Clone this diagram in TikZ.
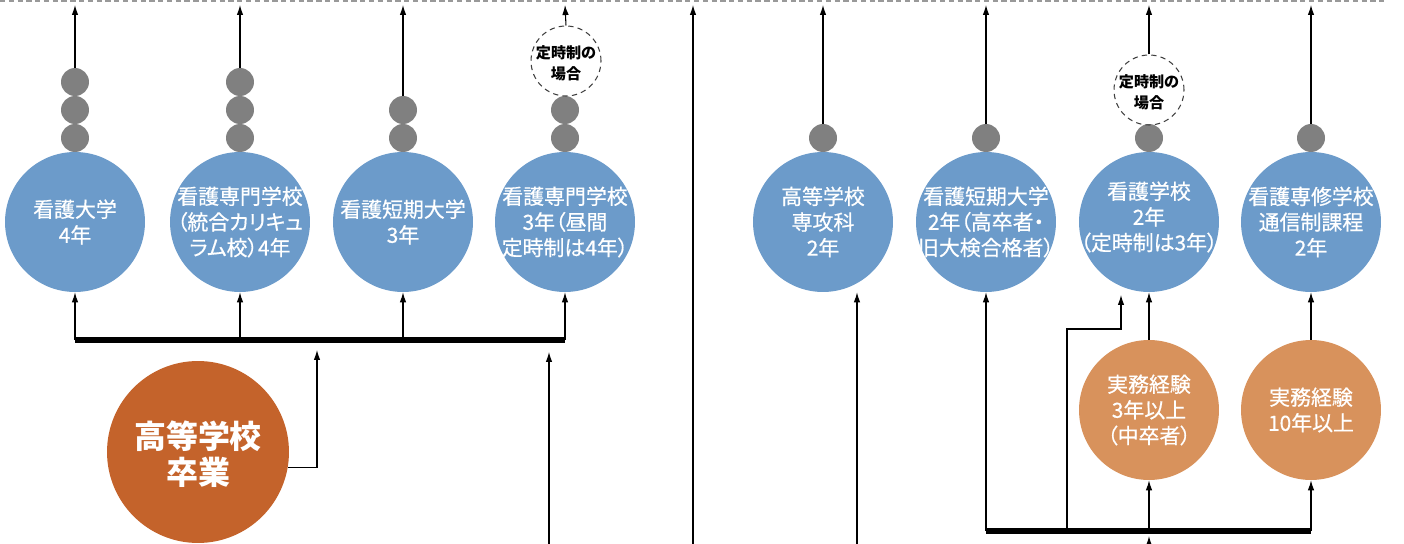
\documentclass[tikz,border=0pt]{standalone}
\usepackage{fontspec}
\setmainfont{Noto Sans CJK JP}[RawFeature=+palt]
\newfontfamily\medjp{Noto Sans CJK JP}[RawFeature=+palt,FakeBold=0.6]
\usetikzlibrary{arrows.meta}
\definecolor{nblue}{HTML}{6C9BCA}
\definecolor{ngray}{HTML}{808080}
\definecolor{norange}{HTML}{C4632B}
\definecolor{nlorange}{HTML}{D8925C}
\begin{document}
\begin{tikzpicture}[x=0.02cm,y=-0.02cm,
  arr/.style={line width=0.6pt,-{Latex[length=0.2cm,width=0.13cm]}},
  barline/.style={line width=3.6pt},
  bluec/.style={circle,fill=nblue,minimum size=2.8cm,inner sep=0pt},
  grayc/.style={circle,fill=ngray,minimum size=0.56cm,inner sep=0pt},
  dashc/.style={circle,draw=black!75,dash pattern=on 3pt off 2.4pt,line width=0.6pt,minimum size=1.4cm,inner sep=0pt},
  bigc/.style={circle,fill=norange,minimum size=3.64cm,inner sep=0pt},
  smallo/.style={circle,fill=nlorange,minimum size=2.8cm,inner sep=0pt},
  wtxt/.style={text=white,align=center,inner sep=0pt,font=\medjp\fontsize{11.9}{14.6}\selectfont},
  bigtxt/.style={text=white,align=center,inner sep=0pt,font=\fontsize{18.2}{20.5}\selectfont\bfseries},
  dtxt/.style={text=black,align=center,inner sep=0pt,font=\fontsize{8.6}{11.8}\selectfont\bfseries}]
\useasboundingbox (0,0) rectangle (1404,544);
% top border
\draw[black!40,densely dashed,line width=0.7pt] (0,1) -- (1387,1);
% top coordinates
\foreach \n/\x in {1/75,2/240,3/403,4/565,5/823,6/986,7/1149,8/1311}{
  \coordinate (t\n) at (\x,5);
}
% blue circles
\node[bluec] (b1) at (75,222) {};
\node[bluec] (b2) at (240,222) {};
\node[bluec] (b3) at (403,222) {};
\node[bluec] (b4) at (565,222) {};
\node[bluec] (b5) at (823,222) {};
\node[bluec] (b6) at (986,222) {};
\node[bluec] (b7) at (1149,222) {};
\node[bluec] (b8) at (1311,222) {};
\node[wtxt] (l1) at (b1) {看護大学\\4年};
\node[wtxt] (l2) at (b2) {看護専門学校\\（統合カリキュ\\ラム校）4年};
\node[wtxt] (l3) at (b3) {看護短期大学\\3年};
\node[wtxt] (l4) at (b4) {看護専門学校\\3年（昼間\\定時制は4年）};
\node[wtxt] (l5) at (b5) {高等学校\\専攻科\\2年};
\node[wtxt] (l6) at (b6) {看護短期大学\\2年（高卒者・\\旧大検合格者）};
\node[wtxt] (l7) at ([yshift=0.1cm]b7) {看護学校\\2年\\（定時制は3年）};
\node[wtxt] (l8) at (b8) {看護専修学校\\通信制課程\\2年};
% gray beads
\node[grayc] (g1a) at (75,138) {};
\node[grayc] (g1b) at (75,110) {};
\node[grayc] (g1c) at (75,82) {};
\node[grayc] (g2a) at (240,138) {};
\node[grayc] (g2b) at (240,110) {};
\node[grayc] (g2c) at (240,82) {};
\node[grayc] (g3a) at (403,138) {};
\node[grayc] (g3b) at (403,110) {};
\node[grayc] (g4a) at (565,138) {};
\node[grayc] (g4b) at (565,110) {};
\node[grayc] (g5) at (823,138) {};
\node[grayc] (g6) at (986,138) {};
\node[grayc] (g7) at (1149,138) {};
\node[grayc] (g8) at (1311,138) {};
% dashed circles
\node[dashc] (d4) at (566,61) {};
\node[dtxt] at ([yshift=-0.05cm]d4) {定時制の\\場合};
\node[dashc] (d7) at (1149,90) {};
\node[dtxt] at ([yshift=-0.05cm]d7) {定時制の\\場合};
% upward arrows to top
\draw[arr] (g1c.north) -- (t1);
\draw[arr] (g2c.north) -- (t2);
\draw[arr] (g3b.north) -- (t3);
\draw[arr] (d4.north) -- (t4);
\draw[arr] (g5.north) -- (t5);
\draw[arr] (g6.north) -- (t6);
\draw[arr] (d7.north) -- (t7);
\draw[arr] (g8.north) -- (t8);
% centre vertical line
\coordinate (vb) at (693,544);
\coordinate (vt) at (693,5);
\draw[arr] (vb) -- (vt);
% left bar
\coordinate (lb1) at (75,340);
\coordinate (lb2) at (240,340);
\coordinate (lb3) at (403,340);
\coordinate (lb4) at (565,340);
\draw[barline] (lb1) -- (lb4);
\draw[arr] (lb1) -- (b1.south);
\draw[arr] (lb2) -- (b2.south);
\draw[arr] (lb3) -- (b3.south);
\draw[arr] (lb4) -- (b4.south);
% high school graduation
\node[bigc] (hs) at (198,452) {};
\node[bigtxt] at ([yshift=-0.04cm]hs) {高等学校\\卒業};
\coordinate (hsup) at (317,350);
\draw[arr] (hs.-10) -| (hsup);
\coordinate (lbot) at (549,544);
\coordinate (ltop) at (549,352);
\draw[arr] (lbot) -- (ltop);
% right part
\coordinate (sb) at (857,544);
\draw[arr] (sb) -- (sb |- b5.south);
\node[smallo] (o7) at (1149,410) {};
\node[smallo] (o8) at (1311,410) {};
\node[wtxt] at (o7) {実務経験\\3年以上\\（中卒者）};
\node[wtxt] at (o8) {実務経験\\10年以上};
\coordinate (rb1) at (986,531);
\coordinate (rbe) at (1067,531);
\coordinate (rb2) at (1149,531);
\coordinate (rb3) at (1311,531);
\draw[barline] (rb1) -- (rb3);
\draw[arr] (rb1) -- (b6.south);
\coordinate (elb) at (1121,329);
\coordinate (elt) at (1121,295);
\draw[arr] (rbe) |- (elb) -- (elt);
\draw[arr] (rb2) -- (o7.south);
\draw[arr] (rb3) -- (o8.south);
\draw[arr] (o7.north) -- (b7.south);
\draw[arr] (o8.north) -- (b8.south);
\coordinate (rbot) at (1149,544);
\coordinate (rtop) at (1149,536);
\draw[arr] (rbot) -- (rtop);
\end{tikzpicture}
\end{document}
